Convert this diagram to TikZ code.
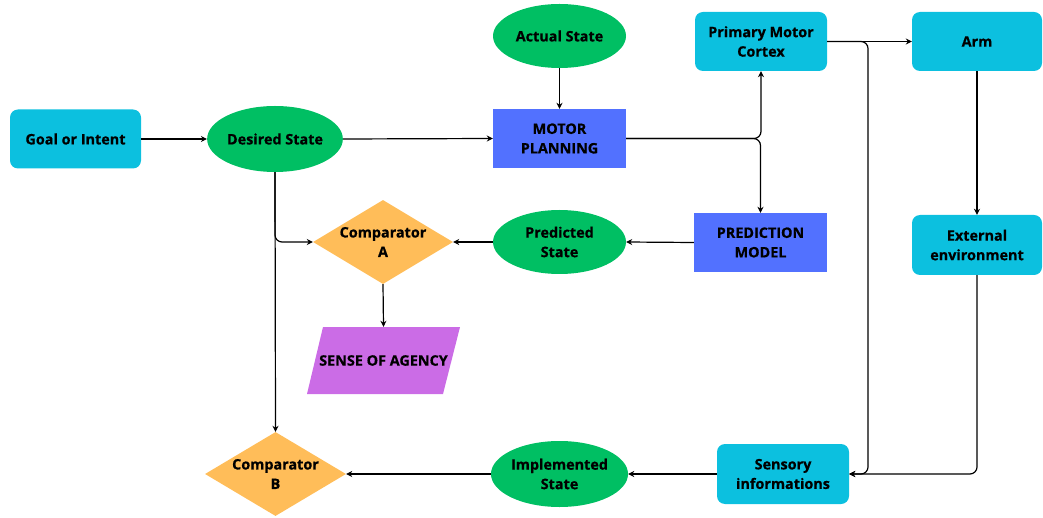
\documentclass[tikz,border=0pt]{standalone}
\usepackage{fontspec}
\setmainfont{Open Sans}[BoldFeatures={FakeBold=0.6}]
\usetikzlibrary{shapes.geometric,arrows.meta}
\definecolor{cy}{HTML}{0CC0DF}
\definecolor{gr}{HTML}{00BF63}
\definecolor{bl}{HTML}{5271FF}
\definecolor{or}{HTML}{FFBD59}
\definecolor{pu}{HTML}{CB6CE6}
\tikzset{
  lbl/.style={font=\fontsize{14.4}{19.5}\selectfont\bfseries, align=center, text=black},
  rbox/.style={lbl, fill=cy, rounded corners=8pt, minimum width=131pt, minimum height=59pt, inner sep=0pt},
  sbox/.style={lbl, fill=bl, minimum width=133pt, minimum height=59pt, inner sep=0pt},
  ell/.style={lbl, ellipse, fill=gr, minimum width=133pt, minimum height=65pt, inner sep=0pt},
  dia/.style={diamond, fill=or, minimum width=140pt, minimum height=84pt, inner sep=0pt},
  conn/.style={line width=1.2pt, -{Stealth[length=6pt,width=6pt]}},
}
\begin{document}
\begin{tikzpicture}[x=1pt,y=-1pt]
\useasboundingbox (0,0) rectangle (1043,518);
% nodes
\node[rbox] (goal) at (75.5,139) {Goal or Intent};
\node[ell, minimum width=134pt, minimum height=66pt] (des) at (275,139) {Desired State};
\node[ell, minimum height=64pt] (act) at (559.5,36) {Actual State};
\node[sbox] (mp) at (559.5,138.5) {MOTOR\\PLANNING};
\node[rbox, minimum width=132pt] (pmc) at (761,41.5) {Primary Motor\\Cortex};
\node[rbox, minimum width=130pt] (arm) at (977,41.5) {Arm};
\node[rbox, minimum width=130pt, minimum height=60pt] (ext) at (977,245) {External\\environment};
\node[sbox] (pm) at (760.5,242.5) {PREDICTION\\MODEL};
\node[ell, minimum height=64pt] (ps) at (559.5,242) {Predicted\\State};
\node[dia] (ca) at (383,242) {};
\node[lbl] (catext) at (ca) {Comparator\\A};
\fill[pu] (323,327) -- (460,327) -- (443,394) -- (307,394) -- cycle;
\node[lbl, minimum height=67pt, inner sep=0pt] (soa) at (383.5,360.5) {SENSE OF AGENCY};
\node[dia, minimum width=141pt] (cb) at (275.5,474) {};
\node[lbl] (cbtext) at (cb) {Comparator\\B};
\node[ell, minimum height=66pt] (imp) at (559.5,474) {Implemented\\State};
\node[rbox, minimum width=132pt, minimum height=60pt] (sens) at (783,474) {Sensory\\informations};
\coordinate (bus) at (868,474);
% connectors
\draw[conn] (goal.east) -- (des.west);
\draw[conn] (des.east) -- (mp.west);
\draw[conn] (act.south) -- (mp.north);
\draw[conn, rounded corners=7pt] (mp.east) -- (pmc.south |- mp.east) -- (pmc.south);
\draw[conn, rounded corners=7pt] (mp.east) -- (pm.north |- mp.east) -- (pm.north);
\draw[conn] (des.south) -- (cb.north);
\draw[conn, rounded corners=7pt] (des.south) -- (des.south |- ca.west) -- (ca.west);
\draw[conn] (pm.west) -- (ps.east);
\draw[conn] (ps.west) -- (ca.east);
\draw[conn] (ca.south) -- (soa.north);
\draw[conn] (pmc.east) -- (arm.west);
\draw[conn, rounded corners=7pt] (pmc.east) -- (pmc.east -| bus) -- (bus) -- (sens.east);
\draw[conn] (arm.south) -- (ext.north);
\draw[conn, rounded corners=7pt] (ext.south) -- (ext.south |- sens.east) -- (sens.east);
\draw[conn] (sens.west) -- (imp.east);
\draw[conn] (imp.west) -- (cb.east);
\end{tikzpicture}
\end{document}
